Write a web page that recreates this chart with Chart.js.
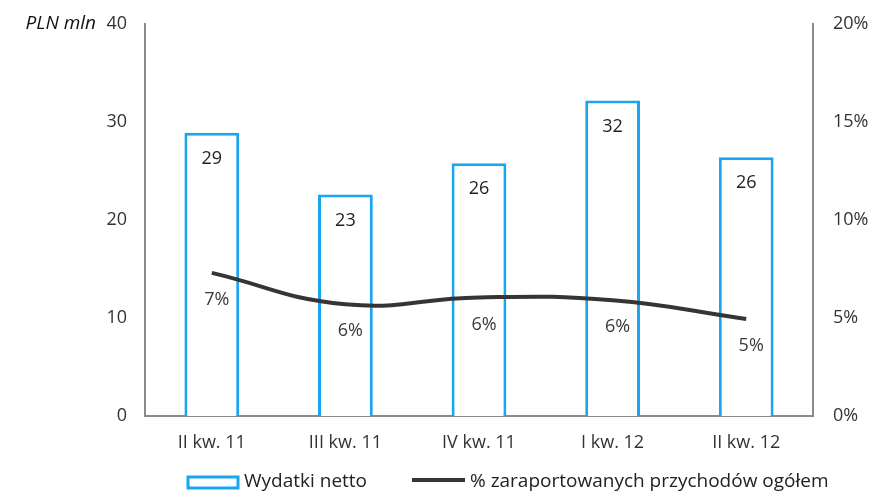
<!DOCTYPE html>
<html>
<head>
<meta charset="utf-8">
<script src="https://cdn.jsdelivr.net/npm/chart.js@4"></script>
<style>
  html, body { margin: 0; padding: 0; background: #fff; }
  #wrap { width: 890px; height: 492px; }
</style>
</head>
<body>
<div id="wrap"><canvas id="chart" width="890" height="492"></canvas></div>
<script>
// quarters on the x axis
const quarters = ['II kw. 11', 'III kw. 11', 'IV kw. 11', 'I kw. 12', 'II kw. 12'];
// net expenses, PLN mln (left axis)
const expenses = [28.9, 22.6, 25.8, 32.2, 26.4];
// share of reported revenues, % (right axis)
const shareOfRevenue = [7.3, 5.7, 6.05, 5.9, 4.95];

const leftTicks = [0, 10, 20, 30, 40];
const rightTicks = [0, 5, 10, 15, 20];

const FONT = '"Open Sans", "Noto Sans", sans-serif';
const BLUE = '#1aa6ee';
const DARK = '#353535';

// value labels, the "PLN mln" unit and the legend row
const extras = {
    id: 'extras',
    afterDatasetsDraw(chart) {
        const ctx = chart.ctx;
        ctx.save();
        ctx.font = '18px ' + FONT;
        ctx.textAlign = 'center';
        ctx.textBaseline = 'middle';

        ctx.fillStyle = '#222';
        chart.getDatasetMeta(1).data.forEach((bar, i) => {
            ctx.fillText(Math.round(expenses[i]), bar.x, bar.y + 26);
        });

        ctx.fillStyle = '#3a3a3a';
        chart.getDatasetMeta(0).data.forEach((pt, i) => {
            ctx.fillText(Math.round(shareOfRevenue[i]) + '%', pt.x + 5, pt.y + 27);
        });

        ctx.fillStyle = '#111';
        ctx.textAlign = 'right';
        ctx.font = 'italic 19px ' + FONT;
        ctx.fillText('PLN mln', 96, 24);

        // legend
        const ly = 482;
        ctx.strokeStyle = BLUE;
        ctx.lineWidth = 3;
        ctx.strokeRect(188, 477, 50, 11);
        ctx.font = '19px ' + FONT;
        ctx.textAlign = 'left';
        ctx.fillStyle = '#222';
        ctx.fillText('Wydatki netto', 244, ly);

        ctx.strokeStyle = DARK;
        ctx.lineWidth = 4;
        ctx.beginPath();
        ctx.moveTo(412, 480);
        ctx.lineTo(465, 480);
        ctx.stroke();
        ctx.fillText('% zaraportowanych przychodów ogółem', 470, ly);
        ctx.restore();
    }
};

// keep the vertical axes from pushing the plot area down
const noPad = s => { s.paddingTop = 0; s.paddingBottom = 0; };

new Chart(document.getElementById('chart'), {
    data: {
        labels: quarters,
        datasets: [
            {
                type: 'line',
                label: '% zaraportowanych przychodów ogółem',
                data: shareOfRevenue,
                yAxisID: 'y1',
                borderColor: DARK,
                borderWidth: 4,
                pointRadius: 0,
                tension: 0.45,
                order: 0
            },
            {
                type: 'bar',
                label: 'Wydatki netto',
                data: expenses,
                yAxisID: 'y',
                backgroundColor: '#fff',
                borderColor: BLUE,
                borderWidth: 3,
                barPercentage: 0.41,
                categoryPercentage: 1,
                order: 1
            }
        ]
    },
    options: {
        responsive: false,
        animation: false,
        layout: { padding: { top: 24, right: 0, bottom: 36, left: 0 } },
        plugins: {
            legend: { display: false },
            tooltip: { enabled: false }
        },
        scales: {
            x: {
                offset: true,
                grid: { display: false, drawTicks: false },
                border: { color: '#8a8a8a', width: 2 },
                ticks: { color: '#333', padding: 16, font: { family: FONT, size: 18 } },
                afterFit: s => { s.height = 40; }
            },
            y: {
                position: 'left',
                min: 0,
                max: 40,
                afterBuildTicks: s => { s.ticks = leftTicks.map(v => ({ value: v })); },
                grid: { display: false, drawTicks: false },
                border: { color: '#8a8a8a', width: 2 },
                ticks: { color: '#333', padding: 18, font: { family: FONT, size: 18 } },
                afterFit: s => { s.width = 145; noPad(s); }
            },
            y1: {
                position: 'right',
                min: 0,
                max: 20,
                afterBuildTicks: s => { s.ticks = rightTicks.map(v => ({ value: v })); },
                grid: { display: false, drawTicks: false },
                border: { color: '#8a8a8a', width: 2 },
                ticks: {
                    color: '#333',
                    padding: 20,
                    font: { family: FONT, size: 18 },
                    callback: v => v + '%'
                },
                afterFit: s => { s.width = 77; noPad(s); }
            }
        }
    },
    plugins: [extras]
});
</script>
</body>
</html>
